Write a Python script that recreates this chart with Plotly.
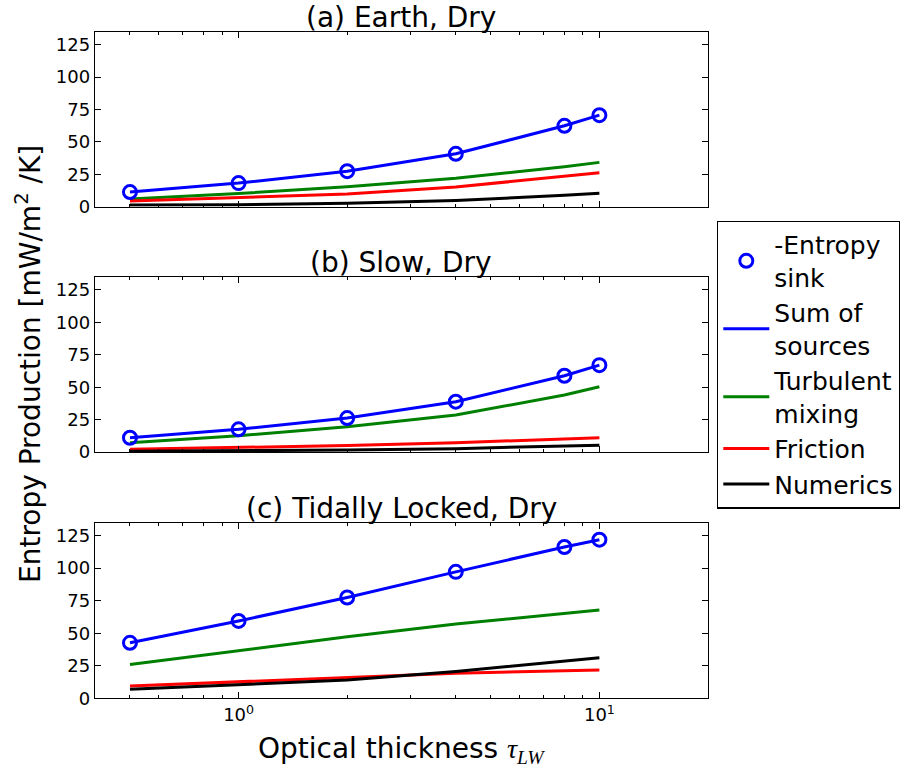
import math
import plotly.graph_objects as go

# Optical thickness values of the experiments
tau = [0.5, 1, 2, 4, 8, 10]

# (a) Earth, Dry  [mW/m^2/K]
sink_earth = [11.3, 18.2, 27.4, 40.8, 62.4, 70.6]
sum_earth = [11.3, 18.2, 27.4, 40.8, 62.4, 70.6]
turb_earth = [6.0, 10.2, 15.4, 21.9, 30.8, 34.2]
fric_earth = [4.4, 7.0, 9.8, 15.2, 23.1, 26.2]
num_earth = [1.3, 1.6, 2.6, 4.8, 8.8, 10.3]

# (b) Slow, Dry
sink_slow = [11.0, 17.5, 26.2, 38.8, 58.8, 67.0]
sum_slow = [11.0, 17.5, 26.2, 38.8, 58.8, 67.0]
turb_slow = [7.2, 12.6, 19.5, 28.5, 44.0, 50.4]
fric_slow = [2.1, 3.4, 5.0, 7.2, 9.8, 11.0]
num_slow = [0.5, 0.9, 1.5, 2.6, 4.4, 5.3]

# (c) Tidally Locked, Dry
sink_tl = [42.6, 59.4, 77.4, 97.1, 116.2, 121.8]
sum_tl = [42.6, 59.4, 77.4, 97.1, 116.2, 121.8]
turb_tl = [26.0, 36.4, 47.2, 57.0, 65.6, 67.8]
fric_tl = [9.4, 12.5, 15.8, 19.2, 21.2, 21.8]
num_tl = [7.0, 10.3, 14.0, 20.5, 28.6, 31.2]

panel_titles = ["(a) Earth, Dry", "(b) Slow, Dry", "(c) Tidally Locked, Dry"]
y_ticks = [0, 25, 50, 75, 100, 125]
x_major = [1, 10]
x_major_text = ["10<sup>0</sup>", "10<sup>1</sup>"]
x_minor = [0.4, 0.5, 0.6, 0.7, 0.8, 0.9, 2, 3, 4, 5, 6, 7, 8, 9, 20]

W, H = 905, 772
FONT = "DejaVu Sans"
BLUE, GREEN, RED, BLACK = "#0000ff", "#008000", "#ff0000", "#000000"

x_dom = [95 / W, 708 / W]
y_doms = [
    [1 - 206.7 / H, 1 - 31.7 / H],
    [1 - 452.0 / H, 1 - 277.0 / H],
    [1 - 698.3 / H, 1 - 522.5 / H],
]

panels = [
    (sink_earth, sum_earth, turb_earth, fric_earth, num_earth),
    (sink_slow, sum_slow, turb_slow, fric_slow, num_slow),
    (sink_tl, sum_tl, turb_tl, fric_tl, num_tl),
]

fig = go.Figure()
for i, (sink, total, turb, fric, num) in enumerate(panels):
    xa = "x" if i == 0 else f"x{i + 1}"
    ya = "y" if i == 0 else f"y{i + 1}"
    first = i == 0
    line_series = [
        ("Sum of<br>sources", total, BLUE, 2),
        ("Turbulent<br>mixing", turb, GREEN, 3),
        ("Friction", fric, RED, 4),
        ("Numerics", num, BLACK, 5),
    ]
    for name, vals, col, rank in line_series:
        fig.add_trace(go.Scatter(
            x=tau, y=vals, mode="lines", name=name,
            line=dict(color=col, width=3),
            xaxis=xa, yaxis=ya, showlegend=first, legendrank=rank,
        ))
    fig.add_trace(go.Scatter(
        x=tau, y=sink, mode="markers", name="-Entropy<br>sink",
        marker=dict(symbol="circle-open", size=13, color=BLUE,
                    line=dict(width=3, color=BLUE)),
        xaxis=xa, yaxis=ya, showlegend=first, legendrank=1,
    ))

axis_common = dict(
    showline=True, linecolor="black", linewidth=1.4, mirror="ticks",
    ticks="inside", tickcolor="black", tickwidth=1.2,
    showgrid=False, zeroline=False,
    tickfont=dict(family=FONT, size=18, color="black"),
)

layout = dict(
    width=W, height=H,
    margin=dict(l=0, r=0, t=0, b=0, autoexpand=False),
    paper_bgcolor="white", plot_bgcolor="white",
    font=dict(family=FONT, color="black"),
    legend=dict(
        x=717 / W, y=1 - 220.5 / H, xanchor="left", yanchor="top",
        bordercolor="black", borderwidth=1.3, bgcolor="white",
        font=dict(family=FONT, size=25, color="black"),
        traceorder="normal", tracegroupgap=0, itemwidth=46,
    ),
    annotations=[],
)

for i in range(3):
    suffix = "" if i == 0 else str(i + 1)
    layout[f"xaxis{suffix}"] = dict(
        axis_common,
        type="log", domain=x_dom,
        range=[math.log10(0.4), math.log10(20)],
        anchor=f"y{suffix}",
        tickmode="array", tickvals=x_major,
        ticktext=x_major_text if i == 2 else ["", ""],
        ticklen=6,
        minor=dict(tickmode="array", tickvals=x_minor, ticks="inside",
                   ticklen=3, tickcolor="black", tickwidth=1.2, showgrid=False),
    )
    layout[f"yaxis{suffix}"] = dict(
        axis_common,
        domain=y_doms[i], range=[0, 135],
        anchor=f"x{suffix}",
        tickmode="array", tickvals=y_ticks, ticklen=6,
    )
    layout["annotations"].append(dict(
        text=panel_titles[i], xref="paper", yref="paper",
        x=(x_dom[0] + x_dom[1]) / 2, y=y_doms[i][1], yshift=-4,
        xanchor="center", yanchor="bottom", showarrow=False,
        font=dict(family=FONT, size=28, color="black"),
    ))

layout["annotations"].append(dict(
    text="Entropy Production [mW/m<sup>2</sup> /K]",
    xref="paper", yref="paper", x=28.5 / W, y=1 - 364.5 / H,
    xanchor="center", yanchor="middle", textangle=-90, showarrow=False,
    font=dict(family=FONT, size=28, color="black"),
))
layout["annotations"].append(dict(
    text=("Optical thickness "
          "<span style='font-family:Liberation Serif'><i>τ</i>"
          "<sub><i>LW</i></sub></span>"),
    xref="paper", yref="paper", x=(x_dom[0] + x_dom[1]) / 2, y=1 - 750 / H,
    xanchor="center", yanchor="middle", showarrow=False,
    font=dict(family=FONT, size=28, color="black"),
))

fig.update_layout(**layout)
fig.write_html("out.html")
